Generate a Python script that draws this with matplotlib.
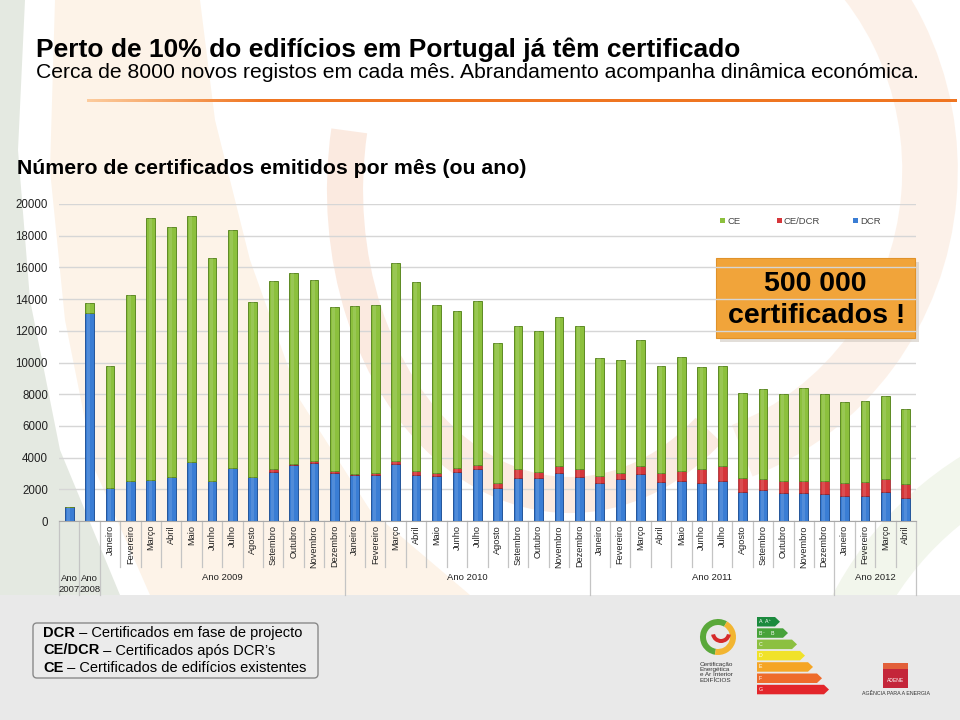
import matplotlib
matplotlib.use("Agg")
import matplotlib.pyplot as plt
from matplotlib import patches
import numpy as np

plt.rcParams['font.family'] = ['Liberation Sans', 'DejaVu Sans']

# ---------------- data ----------------
categories = ["2007", "2008"] + \
    ["Janeiro", "Fevereiro", "Março", "Abril", "Maio", "Junho", "Julho", "Agosto",
     "Setembro", "Outubro", "Novembro", "Dezembro"] * 3 + \
    ["Janeiro", "Fevereiro", "Março", "Abril"]
year_groups = ["Ano\n2007", "Ano\n2008", "Ano 2009", "Ano 2010", "Ano 2011", "Ano 2012"]
group_sizes = [1, 1, 12, 12, 12, 4]

dcr = [860, 13100,
       2100, 2500, 2600, 2750, 3750, 2540, 3320, 2750, 3110, 3510, 3640, 3050,
       2900, 2900, 3600, 2880, 2860, 3110, 3260, 2100, 2730, 2690, 3050, 2750,
       2380, 2630, 2940, 2440, 2540, 2380, 2520, 1850, 1960, 1750, 1750, 1700,
       1580, 1600, 1850, 1470]
ce_dcr = [0, 0,
          0, 0, 0, 0, 0, 0, 0, 40, 150, 60, 160, 100,
          60, 150, 210, 300, 190, 210, 250, 320, 530, 420, 420, 510,
          460, 370, 530, 560, 640, 920, 950, 840, 710, 750, 790, 840,
          800, 840, 820, 840]
ce = [0, 650,
      7700, 11780, 16520, 15820, 15510, 14030, 15060, 11030, 11900, 12080, 11400, 10370,
      10580, 10580, 12450, 11900, 10550, 9930, 10370, 8830, 9060, 8900, 9380, 9020,
      7460, 7160, 7950, 6800, 7150, 6440, 6310, 5410, 5680, 5530, 5870, 5450,
      5150, 5130, 5220, 4740]

series_names = ["CE", "CE/DCR", "DCR"]
col_blue, col_red, col_green = "#3a7dd4", "#d6363a", "#8cc03d"
edge_blue, edge_red, edge_green = "#24559a", "#981e22", "#5d8a24"

W, H = 960, 720
fig = plt.figure(figsize=(W / 100, H / 100), dpi=100)
fig.patch.set_facecolor("white")

# background axes in pixel coordinates (y downwards)
bg = fig.add_axes([0, 0, 1, 1], zorder=0)
bg.set_xlim(0, W)
bg.set_ylim(H, 0)
bg.axis("off")

# decorative swooshes
bg.add_patch(patches.Polygon([(0, 0), (25, 0), (18, 150), (30, 300), (60, 450), (120, 595), (0, 595)],
                             closed=True, facecolor="#e4e9e1", edgecolor="none"))
bg.add_patch(patches.Polygon([(55, 0), (200, 0), (215, 120), (250, 260), (300, 400), (370, 510), (470, 595),
                              (150, 595), (95, 470), (65, 320), (50, 170)],
                             closed=True, facecolor="#fdf3e8", edgecolor="none"))
bg.add_patch(patches.Arc((570, 190), 2 * 225, 2 * 305, theta1=60, theta2=195,
                         color="#fae3d6", lw=26, alpha=0.75))
bg.add_patch(patches.Arc((640, 170), 2 * 290, 2 * 300, theta1=-60, theta2=70,
                         color="#fcece0", lw=40, alpha=0.7))
bg.add_patch(patches.Arc((1150, 760), 2 * 330, 2 * 330, theta1=180, theta2=265,
                         color="#f1f5ea", lw=40, alpha=0.9))

# bottom gray band
bg.add_patch(patches.Rectangle((0, 595), W, H - 595, facecolor="#e9e9e9", edgecolor="none"))

# titles
bg.text(36, 57, "Perto de 10% do edifícios em Portugal já têm certificado",
        fontsize=19, fontweight="bold", color="black", va="baseline")
bg.text(36, 78.5, "Cerca de 8000 novos registos em cada mês. Abrandamento acompanha dinâmica económica.",
        fontsize=15.2, color="black", va="baseline")
# orange gradient rule
grad = np.linspace(0, 1, 400)
c0 = np.array([0.99, 0.80, 0.62])
c1 = np.array([0.94, 0.46, 0.13])
ramp = np.clip(grad * 5, 0, 1)[:, None]
img = (c0 + (c1 - c0) * ramp)[None, :, :]
bg.imshow(img, extent=(87, 957, 102.2, 99.8), aspect="auto", interpolation="bilinear", zorder=2)
bg.set_xlim(0, W)
bg.set_ylim(H, 0)
bg.text(17, 174, "Número de certificados emitidos por mês (ou ano)",
        fontsize=15.3, fontweight="bold", color="black", va="baseline")

# ---------------- main chart ----------------
left, right, top, bottom = 59, 916, 204, 521
ax = fig.add_axes([left / W, 1 - bottom / H, (right - left) / W, (bottom - top) / H], zorder=2)
ax.set_facecolor("none")
x = np.arange(len(categories))
bw = 0.43
b1 = np.array(dcr)
b2 = b1 + np.array(ce_dcr)
tot = b2 + np.array(ce)
ax.bar(x, dcr, bw, color=col_blue, edgecolor=edge_blue, linewidth=0.7, zorder=3)
ax.bar(x, ce_dcr, bw, bottom=b1, color=col_red, edgecolor=edge_red, linewidth=0.5, zorder=3)
ax.bar(x, ce, bw, bottom=b2, color=col_green, edgecolor=edge_green, linewidth=0.7, zorder=3)
# subtle cylinder highlight
ax.bar(x - bw * 0.08, tot, bw * 0.35, color="white", alpha=0.12, linewidth=0, zorder=4)

ax.set_xlim(-0.5, len(categories) - 0.5)
ax.set_ylim(0, 20000)
ax.set_yticks(np.arange(0, 20001, 2000))
ax.tick_params(axis="y", length=0, labelsize=8.3, labelcolor="#222222", pad=8)
ax.set_xticks([])
ax.grid(axis="y", color="#d6d6d6", lw=1, zorder=0)
for s in ["left", "right", "top"]:
    ax.spines[s].set_visible(False)
ax.spines["bottom"].set_color("#a8a8a8")

# category labels & separators
ph = bottom - top
xt = ax.get_xaxis_transform()
for i, lab in enumerate(categories):
    if i >= 2:
        ax.text(i, -4 / ph, lab, transform=xt, rotation=90, ha="center", va="top",
                fontsize=6.6, color="#222222")
bounds = np.cumsum([0] + group_sizes)
for b in range(len(categories) + 1):
    depth = 74 if b in bounds else 46
    ax.plot([b - 0.5, b - 0.5], [0, -depth / ph], transform=xt, color="#c4c4c4",
            lw=0.9, clip_on=False)
for g, name in enumerate(year_groups):
    c = (bounds[g] + bounds[g + 1] - 1) / 2
    yy = -63 / ph if "\n" in name else -57 / ph
    ax.text(c, yy, name, transform=xt, ha="center", va="center",
            fontsize=6.8, color="#222222", linespacing=1.15)

# top legend
leg_items = [("CE", col_green, 723), ("CE/DCR", col_red, 780), ("DCR", col_blue, 856)]
for name, col, px in leg_items:
    bg.add_patch(patches.Rectangle((px - 3, 218), 5, 5, facecolor=col, edgecolor="none", zorder=5))
    bg.text(px + 4, 221, name, fontsize=6.8, color="#444444", va="center", zorder=5)

# orange callout
bg.add_patch(patches.Rectangle((720, 262), 199, 80, facecolor="#cfc8c0", edgecolor="none",
                               alpha=0.6, zorder=4))
bg.add_patch(patches.Rectangle((716, 258), 199, 80, facecolor="#f1a43a", edgecolor="#e0922a",
                               lw=0.8, zorder=5))
bg.text(815.5, 284, "500 000", fontsize=20.5, fontweight="bold", ha="center", va="center",
        color="black", zorder=6)
bg.text(817, 316, "certificados !", fontsize=20.5, fontweight="bold", ha="center", va="center",
        color="black", zorder=6)

# bottom legend box
bg.add_patch(patches.FancyBboxPatch((33, 623), 285, 55, boxstyle="round,pad=0,rounding_size=4",
                                    facecolor="#ebebeb", edgecolor="#8a8a8a", lw=1.0, zorder=3))
lines = [("DCR", " – Certificados em fase de projecto"),
         ("CE/DCR", " – Certificados após DCR’s"),
         ("CE", " – Certificados de edifícios existentes")]
for k, (bold, rest) in enumerate(lines):
    t = bg.text(43, 633 + k * 17.5, bold, fontsize=10.5, fontweight="bold", va="center", zorder=4)
    bg.annotate(rest, xy=(1, 0), xycoords=t, va="bottom", ha="left", fontsize=10.5, zorder=4)

# energy certificate logo (approximate)
bg.add_patch(patches.Wedge((718, 637), 18, 100, 300, width=6, facecolor="#5aa83a", edgecolor="none", zorder=4))
bg.add_patch(patches.Wedge((718, 637), 18, -60, 100, width=6, facecolor="#f2b531", edgecolor="none", zorder=4))
bg.add_patch(patches.Wedge((721, 633), 10, 10, 170, width=4, facecolor="#d62a2a", edgecolor="none", zorder=4))
bg.text(700, 662, "Certificação\nEnergética\ne Ar Interior\nEDIFÍCIOS", fontsize=4.6, va="top",
        color="#333333", linespacing=1.05, zorder=4)
e_colors = ["#1b8a3e", "#47a23a", "#8cc041", "#f0e22a", "#f5a524", "#ee6b2b", "#e3262b"]
e_ends = [780, 788, 797, 805, 813, 822, 829]
e_lets = ["A  A⁺", "B⁻    B", "C", "D", "E", "F", "G"]
for k in range(7):
    y0 = 617 + k * 11.3
    h = 9.5
    x1 = e_ends[k]
    bg.add_patch(patches.Polygon([(757, y0), (x1 - 5, y0), (x1, y0 + h / 2), (x1 - 5, y0 + h), (757, y0 + h)],
                                 closed=True, facecolor=e_colors[k], edgecolor="none", zorder=4))
    bg.text(759, y0 + h / 2, e_lets[k], fontsize=3.8, color="white", va="center", zorder=5)

# ADENE logo
bg.add_patch(patches.Rectangle((883, 663), 25, 25, facecolor="#c4263a", edgecolor="none", zorder=4))
bg.add_patch(patches.Rectangle((883, 663), 25, 6, facecolor="#e2603a", edgecolor="none", zorder=4))
bg.text(895.5, 681, "ADENE", fontsize=3.6, color="white", ha="center", va="center", zorder=5)
bg.text(895.5, 693, "AGÊNCIA PARA A ENERGIA", fontsize=3.8, color="#333333", ha="center",
        va="center", zorder=4)

fig.savefig("out.png", dpi=100, facecolor=fig.get_facecolor())
